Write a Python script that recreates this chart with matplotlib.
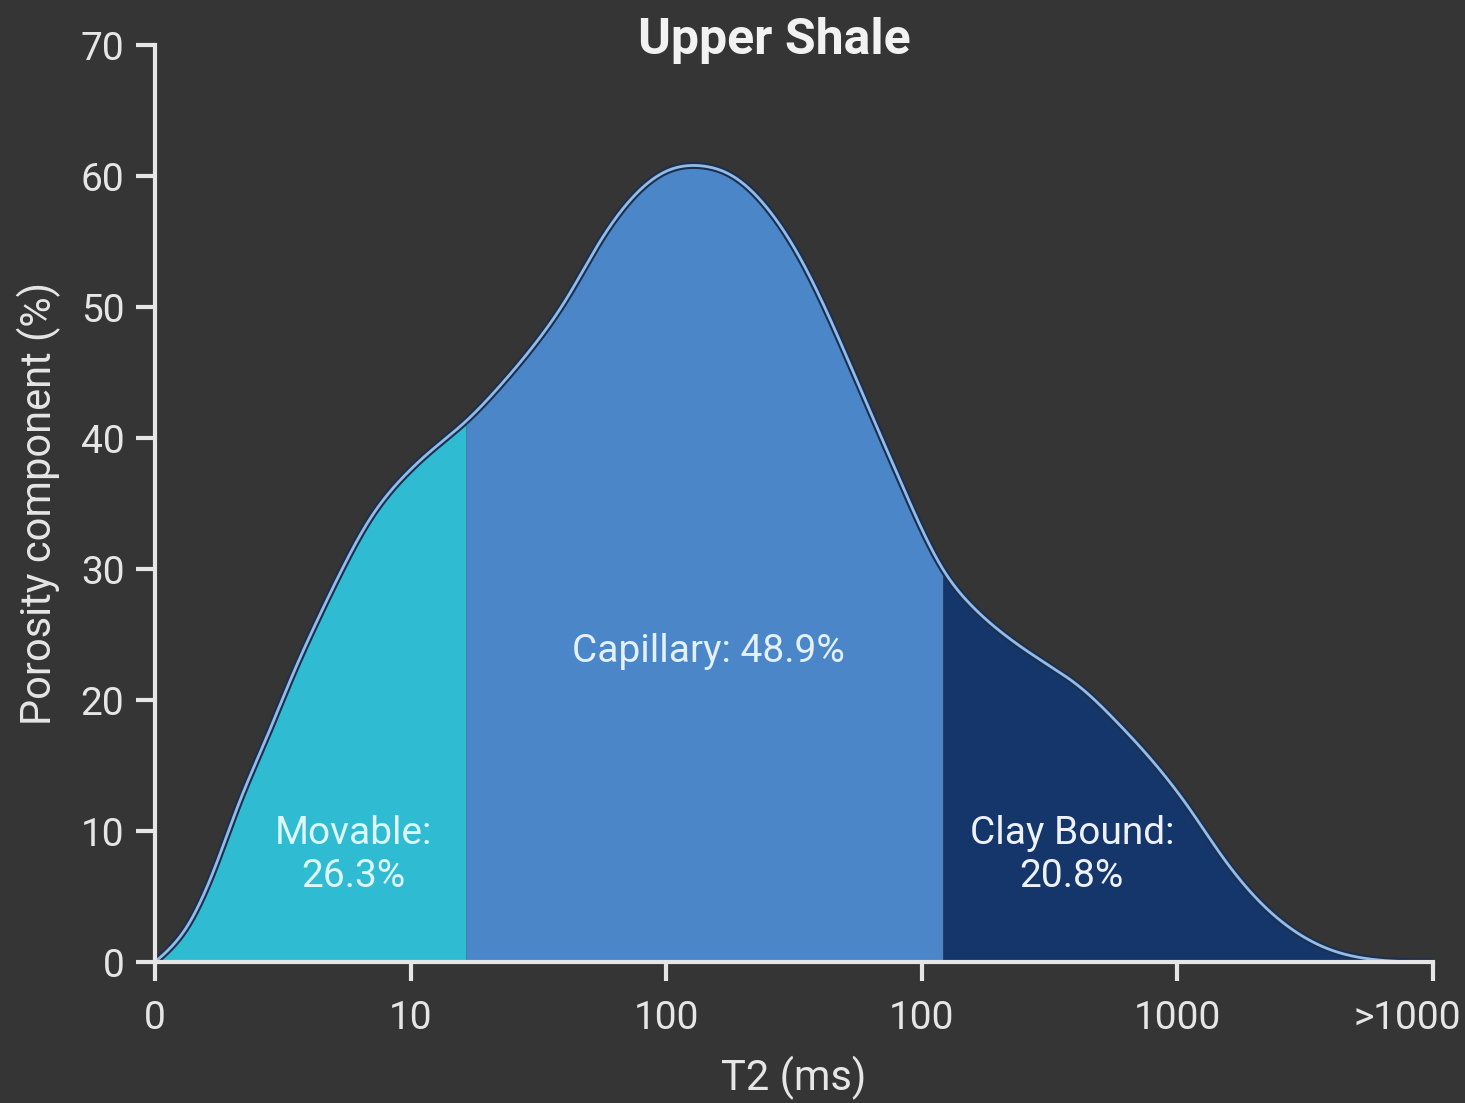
import numpy as np
import matplotlib
matplotlib.use("Agg")
import matplotlib.pyplot as plt
import matplotlib.transforms as mtransforms

# ---- data ----
tick_labels = ["0", "10", "100", "100", "1000", ">1000"]
curve_x = [0.0, 0.125, 0.23, 0.33, 0.44, 0.54, 0.64, 0.74, 0.84, 0.96, 1.09, 1.217,
           1.35, 1.479, 1.612, 1.741, 1.87, 2.003, 2.132, 2.261, 2.394, 2.523, 2.653,
           2.786, 2.915, 3.083, 3.196, 3.337, 3.478, 3.619, 3.76, 3.901, 4.041,
           4.182, 4.323, 4.464, 4.605, 4.746, 5.0]
curve_y = [0.0, 2.7, 7.0, 12.2, 17.3, 22.0, 26.3, 30.3, 33.8, 36.8, 39.2, 41.3,
           44.0, 47.0, 50.7, 55.0, 58.4, 60.4, 60.8, 60.0, 57.6, 53.8, 48.6,
           42.6, 36.8, 30.0, 27.2, 24.8, 22.9, 21.0, 18.4, 15.4, 11.9,
           7.9, 4.6, 2.3, 0.9, 0.25, 0.0]
split_points = [1.217, 3.083]
region_names = ["Movable:\n26.3%", "Capillary: 48.9%", "Clay Bound:\n20.8%"]
region_colors = ["#2fbcd3", "#4a86c8", "#14366a"]
label_pos_x = [0.775, 2.164, 3.588]
label_pos_y = [8.2, 23.7, 8.2]
label_colors = ["#dff6fa", "#e4f0fa", "#eef2f8"]

# ---- smooth rendering through the read points (natural cubic spline) ----
def natural_spline(x, y, xn):
    x = np.asarray(x, float); y = np.asarray(y, float)
    n = len(x); h = np.diff(x)
    A = np.zeros((n, n)); r = np.zeros(n)
    A[0, 0] = A[-1, -1] = 1
    for i in range(1, n - 1):
        A[i, i-1] = h[i-1]; A[i, i] = 2*(h[i-1] + h[i]); A[i, i+1] = h[i]
        r[i] = 6*((y[i+1]-y[i])/h[i] - (y[i]-y[i-1])/h[i-1])
    M = np.linalg.solve(A, r)
    idx = np.clip(np.searchsorted(x, xn) - 1, 0, n - 2)
    x0 = x[idx]; x1 = x[idx+1]; hh = h[idx]
    return (M[idx]*(x1-xn)**3/(6*hh) + M[idx+1]*(xn-x0)**3/(6*hh)
            + (y[idx]/hh - M[idx]*hh/6)*(x1-xn) + (y[idx+1]/hh - M[idx+1]*hh/6)*(xn-x0))

xs = np.sort(np.concatenate([np.linspace(0, 5, 1500), split_points]))
ys = np.maximum(natural_spline(curve_x, curve_y, xs), 0)

bg = "#353535"
fg = "#e6e6e6"
plt.rcParams['font.family'] = ['Roboto', 'DejaVu Sans']

fig = plt.figure(figsize=(14.65, 11.03), dpi=100, facecolor=bg)
ax = fig.add_axes([0.1058, 0.1278, 0.8722, 0.8312])
ax.set_facecolor(bg)

bounds = [0.0] + split_points + [5.0]
for i in range(3):
    m = (xs >= bounds[i]) & (xs <= bounds[i+1])
    ax.fill_between(xs[m], 0, ys[m], color=region_colors[i], linewidth=0, zorder=2)
ax.plot(xs, ys, color="#1c2f4f", lw=5, zorder=3, solid_capstyle='round')
ax.plot(xs, ys, color="#93bde8", lw=2, zorder=4)

for i in range(3):
    ax.text(label_pos_x[i], label_pos_y[i], region_names[i], ha='center', va='center',
            fontsize=28, color=label_colors[i], linespacing=1.2, zorder=5)

ax.set_xlim(0, 5)
ax.set_ylim(0, 70)
ax.set_xticks(range(6))
ax.set_xticklabels(tick_labels)
ax.set_yticks(range(0, 71, 10))
for s in ['top', 'right']:
    ax.spines[s].set_visible(False)
for s in ['left', 'bottom']:
    ax.spines[s].set_color(fg)
    ax.spines[s].set_linewidth(3)
    ax.spines[s].set_zorder(6)
ax.tick_params(colors=fg, width=3, length=14, labelsize=28, pad=8)
ax.tick_params(axis='x', pad=13)
# last x tick label sits left of its tick in the reference
last = ax.get_xticklabels()[-1]
last.set_transform(last.get_transform() + mtransforms.ScaledTranslation(-25/100, 0, fig.dpi_scale_trans))

ax.set_xlabel("T2 (ms)", color=fg, fontsize=30, labelpad=14)
ax.set_ylabel("Porosity component (%)", color=fg, fontsize=30, labelpad=14)
ax.set_title("Upper Shale", color="#f2f2f2", fontsize=36, fontweight='bold', pad=-6, x=0.485, y=1.0)

fig.savefig("out.png", dpi=100, facecolor=bg)
